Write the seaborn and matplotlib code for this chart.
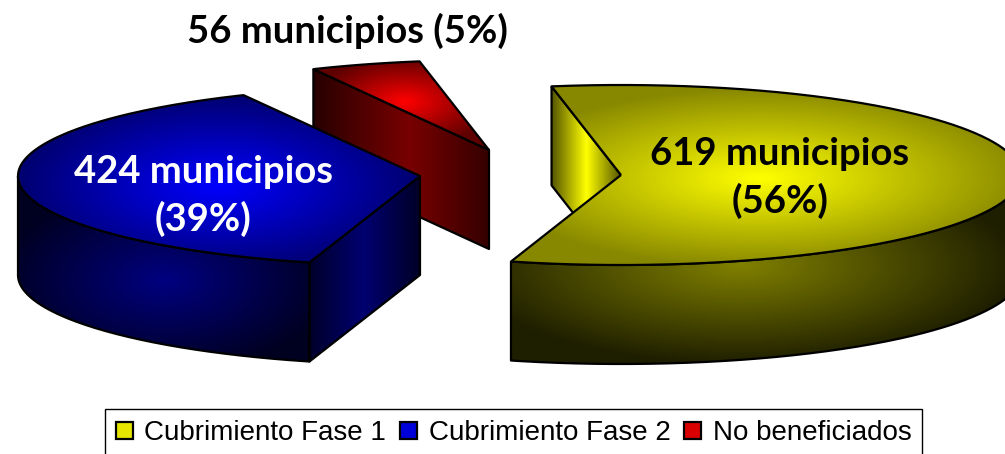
import numpy as np
import matplotlib
matplotlib.use('Agg')
import matplotlib.pyplot as plt
import seaborn as sns
from matplotlib.path import Path
from matplotlib.patches import PathPatch, Patch

labels = ['Cubrimiento Fase 1', 'Cubrimiento Fase 2', 'No beneficiados']
municipios = [619, 424, 56]
text_colors = ['black', 'white', 'black']

# geometria de la torta (pixeles de la imagen)
centers = [(621, 175), (420, 176), (489, 150)]
radii = [400, 402, 400]
ry, depth = 90, 99
start_angle = 99
edge_nudge = [1.0, -2.2, -1.3]  # la perspectiva corre un poco los bordes

sns.set_theme(style='white')
plt.rcParams['font.family'] = ['Liberation Sans', 'DejaVu Sans']

fig = plt.figure(figsize=(10.05, 4.54), dpi=100)
ax = fig.add_axes([0, 0, 1, 1])
ax.set_xlim(0, 1005)
ax.set_ylim(454, 0)
ax.set_autoscale_on(False)
ax.axis('off')


def rim(center, rx, a, b, n=200, drop=0):
    t = np.radians(np.linspace(a, b, n))
    return np.column_stack([center[0] + rx * np.cos(t), center[1] - ry * np.sin(t) + drop])


def shaded(points, glow, dark, bright, z):
    # glow = (cx, cy, sx, sy) del degradado
    pts = np.vstack([points, points[0]])
    path = Path(pts, closed=False)
    x0, y0 = pts.min(axis=0)
    x1, y1 = pts.max(axis=0)
    xx, yy = np.meshgrid(np.arange(x0, x1 + 1), np.arange(y0, y1 + 1))
    d = np.sqrt(((xx - glow[0]) / glow[2]) ** 2 + ((yy - glow[1]) / glow[3]) ** 2)
    cmap = sns.blend_palette([bright, dark], as_cmap=True)
    im = ax.imshow(np.clip(d, 0, 1), extent=(x0, x1, y1, y0), cmap=cmap, vmin=0, vmax=1,
                   aspect='auto', zorder=z, interpolation='bilinear')
    patch = PathPatch(path, fc='none', ec='black', lw=1.6, zorder=z + 0.5, joinstyle='round')
    ax.add_patch(patch)
    im.set_clip_path(patch)


def quad(center, rx, angle):
    p = rim(center, rx, angle, angle, n=1)[0]
    return np.array([p, p + [0, depth], [center[0], center[1] + depth], center], dtype=float)


total = sum(municipios)
sweeps = [v / total * 360 for v in municipios]
edges = start_angle - np.concatenate([[0], np.cumsum(sweeps)])
a_yel, b_yel = edges[0] + edge_nudge[0], edges[1] + edge_nudge[1]
a_blu, b_blu = edges[1] + edge_nudge[1], edges[2] + edge_nudge[2]
a_red, b_red = edges[2] + edge_nudge[2], edges[3] + edge_nudge[0]
c_yel, c_blu, c_red = centers
r_yel, r_blu, r_red = radii

# No beneficiados (atras)
shaded(quad(c_red, r_red, a_red), (410, 0, 105, 1e6), '#200000', '#780000', 2)
shaded(np.vstack([c_red, rim(c_red, r_red, a_red, b_red, 30)]), (405, 102, 90, 45), '#600000', '#ff0000', 3)

# Fase 2
wall = np.vstack([rim(c_blu, r_blu, -180, a_blu, 120), rim(c_blu, r_blu, a_blu, -180, 120, depth)])
shaded(wall, (165, 280, 170, 95), '#000020', '#000080', 4)
shaded(quad(c_blu, r_blu, a_blu), (364, 0, 56, 1e6), '#000028', '#000070', 4)
shaded(np.vstack([c_blu, rim(c_blu, r_blu, a_blu, b_blu, 200)]), (219, 185, 200, 90), '#000070', '#0000ff', 5)

# Fase 1
shaded(quad(c_yel, r_yel, a_yel), (586, 0, 35, 1e6), '#555500', '#ffff00', 6)
wall = np.vstack([rim(c_yel, r_yel, b_yel, 0, 200), rim(c_yel, r_yel, 0, b_yel, 200, depth)])
shaded(wall, (740, 265, 280, 100), '#1e1e00', '#808000', 7)
shaded(np.vstack([c_yel, rim(c_yel, r_yel, a_yel, b_yel, 300)]), (760, 178, 270, 90), '#888800', '#ffff00', 8)

# etiquetas
pct = [round(v / total * 100) for v in municipios]
font = dict(family=['Lato', 'Liberation Sans'], fontweight='bold', fontsize=27.5,
            ha='center', va='center', linespacing=1.38, zorder=20)
ax.text(780, 178, f'{municipios[0]} municipios\n({pct[0]}%)', color=text_colors[0], **font)
ax.text(203, 196, f'{municipios[1]} municipios\n({pct[1]}%)', color=text_colors[1], **font)
ax.text(347, 31, f'{municipios[2]} municipios ({pct[2]}%)', color=text_colors[2], **font)

handles = [Patch(fc=c, ec='black', lw=1.6, label=l) for c, l in zip(['#e6e600', '#0000d8', '#d80000'], labels)]
leg = ax.legend(handles=handles, ncol=3, loc='upper left', bbox_to_anchor=(105, 409),
                bbox_transform=ax.transData, fontsize=20, frameon=True, fancybox=False,
                edgecolor='black', facecolor='white', framealpha=1, borderaxespad=0, borderpad=0.4,
                handlelength=0.62, handleheight=0.55, handletextpad=0.4, columnspacing=0.5,
                labelcolor='black')
leg.get_frame().set_linewidth(1.0)
leg.set_zorder(30)

fig.savefig('out.png', dpi=100)
